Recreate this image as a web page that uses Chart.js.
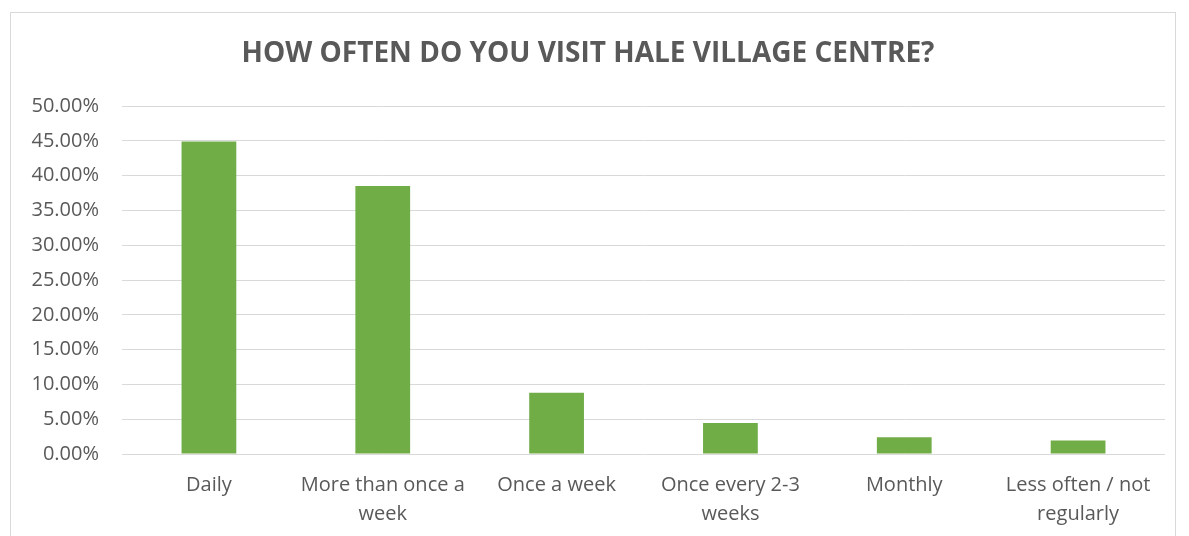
<!DOCTYPE html>
<html>
<head>
<meta charset="utf-8">
<script src="https://cdn.jsdelivr.net/npm/chart.js@4/dist/chart.umd.min.js"></script>
<style>
  body { margin: 0; background: #fff; overflow: hidden; }
  .frame {
    position: absolute; left: 10px; top: 12px;
    width: 1166px; height: 540px;
    border: 1px solid #d9d9d9; box-sizing: border-box;
  }
  canvas { display: block; }
</style>
</head>
<body>
<div class="frame">
  <canvas id="chart" width="1164" height="538"></canvas>
</div>
<script>
const categories = [
  'Daily',
  ['More than once a', 'week'],
  'Once a week',
  ['Once every 2-3', 'weeks'],
  'Monthly',
  ['Less often / not', 'regularly']
];
const shares = [44.9, 38.5, 8.8, 4.45, 2.4, 1.95];
const yTicks = [0, 5, 10, 15, 20, 25, 30, 35, 40, 45, 50];

const textColor = '#595959';
const fontFamily = '"Open Sans", "Noto Sans", sans-serif';

new Chart(document.getElementById('chart'), {
  type: 'bar',
  data: {
    labels: categories,
    datasets: [{
      label: 'Share',
      data: shares,
      backgroundColor: '#70ad47',
      barPercentage: 0.315,
      categoryPercentage: 1
    }]
  },
  options: {
    responsive: false,
    animation: false,
    layout: { padding: { right: 10, left: 0 } },
    plugins: {
      legend: { display: false },
      tooltip: { enabled: false },
      title: {
        display: true,
        text: 'HOW OFTEN DO YOU VISIT HALE VILLAGE CENTRE?',
        color: textColor,
        font: { family: fontFamily, size: 28, weight: 'bold', lineHeight: 1.2 },
        padding: { top: 24, bottom: 35.4 }
      }
    },
    scales: {
      x: {
        grid: { display: false, drawTicks: false },
        border: { display: false },
        ticks: {
          color: textColor,
          padding: 17,
          maxRotation: 0,
          autoSkip: false,
          font: { family: fontFamily, size: 20, lineHeight: 1.45 }
        },
        afterFit: (s) => { s.height = 97; }
      },
      y: {
        min: 0,
        max: 50,
        afterBuildTicks: (s) => { s.ticks = yTicks.map(v => ({ value: v })); },
        grid: { color: '#d9d9d9', lineWidth: 1, drawTicks: false },
        border: { display: false },
        ticks: {
          color: textColor,
          padding: 23,
          font: { family: fontFamily, size: 20 },
          callback: (v) => v.toFixed(2) + '%'
        },
        afterFit: (s) => { s.width = 111; }
      }
    }
  }
});
</script>
</body>
</html>
